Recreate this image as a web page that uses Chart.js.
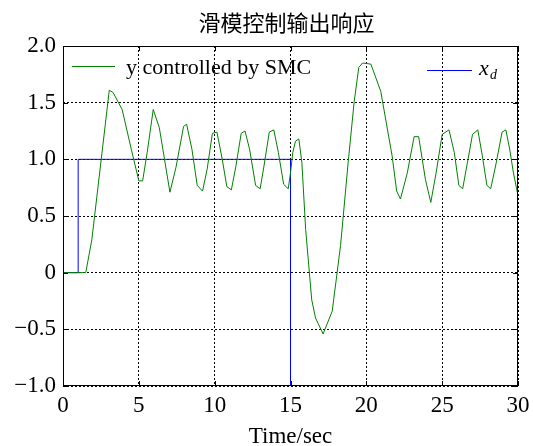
<!DOCTYPE html>
<html>
<head>
<meta charset="utf-8">
<script src="https://cdn.jsdelivr.net/npm/chart.js@4.4.1/dist/chart.umd.min.js"></script>
<style>
  html, body { margin: 0; padding: 0; background: #fff; }
</style>
</head>
<body>
<canvas id="smc-chart" width="533" height="446"></canvas>
<script>
// Data
const TIME = [
  0, 1.5, 1.9, 2.8, 3.05, 3.3, 3.9, 4.5, 5.0, 5.25,
  5.55, 5.95, 6.35, 7.05, 7.45, 7.95, 8.15, 8.5, 8.85, 9.2,
  9.5, 9.85, 10.15, 10.5, 10.8, 11.1, 11.4, 11.75, 12.0, 12.3,
  12.7, 13.0, 13.25, 13.6, 13.9, 14.2, 14.55, 14.85, 15.0, 15.15,
  15.33, 15.55, 15.75, 16.0, 16.4, 16.65, 17.15, 17.75, 18.3, 18.8,
  19.2, 19.5, 19.75, 20.3, 20.95, 21.7, 22.0, 22.25, 22.7, 23.15,
  23.45, 23.9, 24.25, 24.6, 25.0, 25.45, 25.8, 26.1, 26.35, 26.65,
  27.0, 27.35, 27.65, 27.95, 28.2, 28.55, 28.95, 29.2, 29.45, 29.7,
  30,
];
const Y_SMC = [
  0, 0, 0.29, 1.32, 1.61, 1.59, 1.44, 1.09, 0.81, 0.81,
  1.06, 1.44, 1.28, 0.71, 0.93, 1.29, 1.31, 1.09, 0.77, 0.72,
  0.91, 1.23, 1.24, 1.0, 0.76, 0.73, 0.94, 1.23, 1.25, 1.09,
  0.77, 0.74, 0.94, 1.24, 1.26, 1.06, 0.78, 0.74, 0.88, 1.06,
  1.16, 1.18, 0.97, 0.38, -0.24, -0.40, -0.54, -0.34, 0.24, 0.97,
  1.51, 1.81, 1.85, 1.84, 1.60, 1.03, 0.72, 0.65, 0.88, 1.20,
  1.20, 0.82, 0.62, 0.88, 1.22, 1.26, 1.06, 0.77, 0.74, 0.96,
  1.22, 1.26, 1.03, 0.77, 0.74, 0.96, 1.24, 1.26, 1.09, 0.88,
  0.68,
];
const TIME_XD = [0, 1, 1, 15, 15, 30];
const Y_XD = [0, 0, 1, 1, -1, -1];

const X_TICKS = [0, 5, 10, 15, 20, 25, 30];
const Y_TICKS = [-1, -0.5, 0, 0.5, 1, 1.5, 2];

const TITLE = '滑模控制输出响应';
const X_LABEL = 'Time/sec';
const LEGEND_SMC = 'y controlled by SMC';

const SERIF = '"Liberation Serif", "Times New Roman", serif';
const GREEN = '#008000';
const BLUE = '#0000ff';

function fmtY(v) {
  if (v === 0) return '0';
  return (v < 0 ? '\u2212' : '') + Math.abs(v).toFixed(1);
}

function toPoints(xs, ys) {
  return xs.map((x, i) => ({ x, y: ys[i] }));
}

// frame, inward ticks, title, x label and in-plot legend (MATLAB look)
const matlabFrame = {
  id: 'matlabFrame',
  afterDraw(chart) {
    const { ctx, chartArea: a, scales } = chart;
    ctx.save();
    ctx.strokeStyle = '#000';
    ctx.lineWidth = 1;
    ctx.setLineDash([]);
    ctx.strokeRect(a.left + 0.5, a.top + 0.5, a.right - a.left - 1, a.bottom - a.top - 1);

    const tl = 5;
    ctx.beginPath();
    X_TICKS.forEach(v => {
      const px = Math.round(scales.x.getPixelForValue(v)) + 0.5;
      ctx.moveTo(px, a.bottom); ctx.lineTo(px, a.bottom - tl);
      ctx.moveTo(px, a.top); ctx.lineTo(px, a.top + tl);
    });
    Y_TICKS.forEach(v => {
      const py = Math.round(scales.y.getPixelForValue(v)) + 0.5;
      ctx.moveTo(a.left, py); ctx.lineTo(a.left + tl, py);
      ctx.moveTo(a.right, py); ctx.lineTo(a.right - tl, py);
    });
    ctx.stroke();

    const cx = (a.left + a.right) / 2;
    ctx.fillStyle = '#000';
    ctx.textAlign = 'center';
    ctx.textBaseline = 'middle';
    ctx.font = '22px "Noto Sans CJK SC", sans-serif';
    ctx.fillText(TITLE, cx - 4, 23);
    ctx.font = '23px ' + SERIF;
    ctx.fillText(X_LABEL, cx, 437);

    // legend
    ctx.lineWidth = 1;
    ctx.strokeStyle = GREEN;
    ctx.beginPath(); ctx.moveTo(72, 66.5); ctx.lineTo(115, 66.5); ctx.stroke();
    ctx.textAlign = 'left';
    ctx.textBaseline = 'alphabetic';
    ctx.font = '22px ' + SERIF;
    ctx.fillText(LEGEND_SMC, 126, 74);

    ctx.strokeStyle = BLUE;
    ctx.beginPath(); ctx.moveTo(427, 70.5); ctx.lineTo(472, 70.5); ctx.stroke();
    ctx.font = 'italic 22px ' + SERIF;
    ctx.fillText('x', 479, 75);
    ctx.font = 'italic 14px ' + SERIF;
    ctx.fillText('d', 490, 79);
    ctx.restore();
  },
};

new Chart(document.getElementById('smc-chart'), {
  type: 'line',
  data: {
    datasets: [
      {
        label: LEGEND_SMC,
        data: toPoints(TIME, Y_SMC),
        borderColor: GREEN,
        borderWidth: 1,
        pointRadius: 0,
        tension: 0,
      },
      {
        label: 'xd',
        data: toPoints(TIME_XD, Y_XD),
        borderColor: BLUE,
        borderWidth: 1,
        pointRadius: 0,
        tension: 0,
      },
    ],
  },
  options: {
    responsive: false,
    animation: false,
    layout: { padding: { top: 46, right: 15, left: 0, bottom: 0 } },
    plugins: {
      legend: { display: false },
      title: { display: false },
      tooltip: { enabled: false },
    },
    scales: {
      x: {
        type: 'linear',
        min: 0,
        max: 30,
        afterFit: s => { s.height = 60; s.paddingLeft = 0; s.paddingRight = 0; },
        afterBuildTicks: s => { s.ticks = X_TICKS.map(v => ({ value: v })); },
        ticks: {
          color: '#000',
          font: { family: SERIF, size: 23 },
          padding: 6,
          maxRotation: 0,
        },
        grid: { color: '#000', lineWidth: 1, drawTicks: false },
        border: { display: false, dash: [2, 2] },
      },
      y: {
        min: -1,
        max: 2,
        afterFit: s => { s.width = 63; s.paddingTop = 0; s.paddingBottom = 0; },
        afterBuildTicks: s => { s.ticks = Y_TICKS.map(v => ({ value: v })); },
        ticks: {
          color: '#000',
          font: { family: SERIF, size: 23 },
          padding: 7,
          callback: v => fmtY(v),
        },
        grid: { color: '#000', lineWidth: 1, drawTicks: false },
        border: { display: false, dash: [2, 2] },
      },
    },
  },
  plugins: [matlabFrame],
});
</script>
</body>
</html>
